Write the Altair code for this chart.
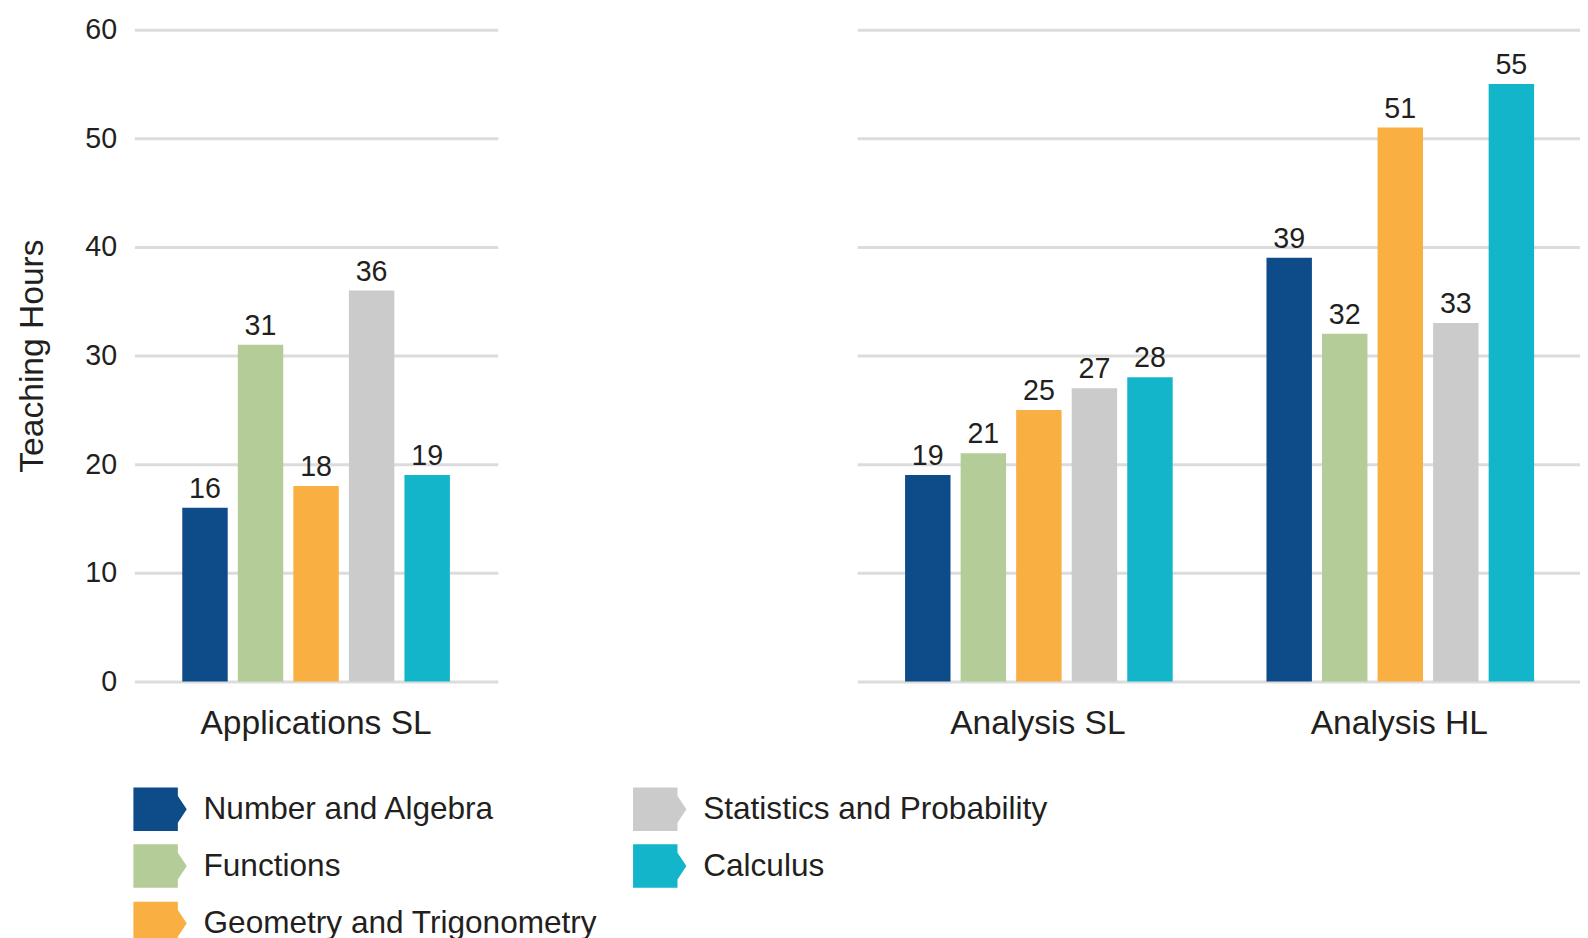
import altair as alt
import pandas as pd

courses = ["Applications SL", "Analysis SL", "Analysis HL"]
topics = ["Number and Algebra", "Functions", "Geometry and Trigonometry",
          "Statistics and Probability", "Calculus"]
hours_app_sl = [16, 31, 18, 36, 19]
hours_ana_sl = [19, 21, 25, 27, 28]
hours_ana_hl = [39, 32, 51, 33, 55]
colors = ["#0D4B89", "#B3CC98", "#FAAF42", "#CBCBCB", "#13B5CB"]
y_ticks = [0, 10, 20, 30, 40, 50, 60]

rows = []
for course, vals in zip(courses, [hours_app_sl, hours_ana_sl, hours_ana_hl]):
    for t, v in zip(topics, vals):
        rows.append({"course": course, "topic": t, "hours": v})
df = pd.DataFrame(rows)

FONT = "Liberation Sans"
TXT = "#231F20"
GRID = "#DCDCDC"

arrow = "M-1,-0.815 L0.667,-0.815 L0.667,-0.5 L1,0 L0.667,0.5 L0.667,0.815 L-1,0.815 Z"

color_enc = alt.Color(
    "topic:N",
    scale=alt.Scale(domain=topics, range=colors),
    legend=alt.Legend(
        orient="none", legendX=-1, legendY=762, columns=2,
        columnPadding=36, rowPadding=8, symbolType=arrow, symbolSize=2916,
        symbolStrokeWidth=0, symbolOpacity=1, labelFontSize=32, labelOffset=17,
        labelFont=FONT, labelColor=TXT, title=None, labelLimit=600,
    ),
)


def panel(course_list, width, x_range, show_y):
    data = df[df["course"].isin(course_list)]
    x_scale = alt.Scale(paddingInner=0, paddingOuter=0)
    if x_range is not None:
        x_scale = alt.Scale(paddingInner=0, paddingOuter=0, range=x_range)
    x_enc = alt.X(
        "course:N", sort=course_list, title=None, scale=x_scale,
        axis=alt.Axis(labelAngle=0, domain=False, ticks=False, tickSize=0,
                      labelFontSize=34, labelFont=FONT, labelColor=TXT,
                      labelPadding=26, grid=False, labelLimit=600),
    )
    xo_enc = alt.XOffset(
        "topic:N", sort=topics,
        scale=alt.Scale(paddingInner=0.182, paddingOuter=0.862),
    )
    if show_y:
        y_axis = alt.Axis(values=y_ticks, domain=False, ticks=False, tickSize=0,
                          labelFontSize=29, labelFont=FONT, labelColor=TXT,
                          labelPadding=18, grid=True, gridColor=GRID,
                          gridWidth=3, title="Teaching Hours",
                          titleFontSize=34, titleFont=FONT,
                          titleFontWeight="normal", titleColor=TXT,
                          titlePadding=36)
    else:
        y_axis = alt.Axis(values=y_ticks, domain=False, ticks=False, tickSize=0,
                          labels=False, grid=True, gridColor=GRID,
                          gridWidth=3, title=None)
    y_enc = alt.Y("hours:Q", scale=alt.Scale(domain=[0, 60], nice=False),
                  axis=y_axis)
    base = alt.Chart(data).encode(x=x_enc, xOffset=xo_enc, y=y_enc)
    bars = base.mark_bar().encode(color=color_enc)
    labels = base.mark_text(dy=-10, baseline="alphabetic", fontSize=29,
                            font=FONT, color=TXT).encode(text="hours:Q")
    return (bars + labels).properties(width=width, height=660)


left = panel(["Applications SL"], 368, None, True)
right = panel(["Analysis SL", "Analysis HL"], 713, [0, 732], False)

chart = alt.hconcat(left, right, spacing=364).properties(
    padding={"left": 7, "top": 2, "right": 0, "bottom": 0}
).configure_view(stroke=None)

chart.save("out.html", embed_options={"renderer": "svg", "actions": False})
